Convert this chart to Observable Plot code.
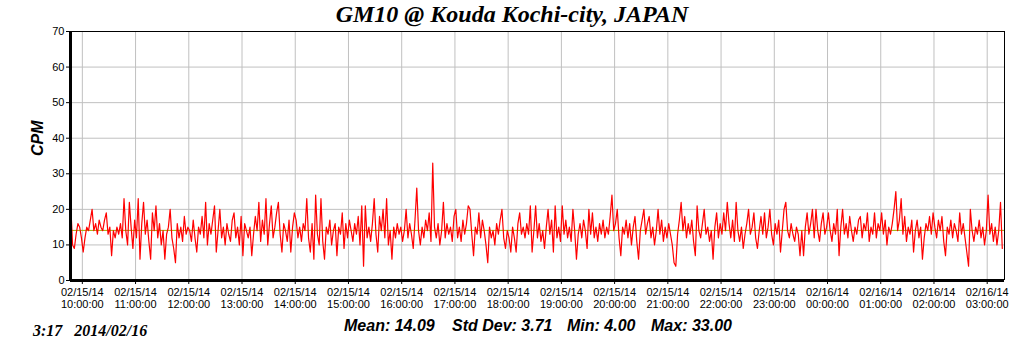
<!DOCTYPE html>
<html><head><meta charset="utf-8">
<script src="https://cdn.jsdelivr.net/npm/d3@7"></script>
<script src="https://cdn.jsdelivr.net/npm/@observablehq/plot@0.6"></script>
<style>
body{margin:0;background:#fff;}
#wrap{position:relative;width:1024px;height:351px;overflow:hidden;}
.ov{position:absolute;white-space:pre;color:#000;}
#title{left:0;width:1024px;top:1px;text-align:center;font:italic bold 24px "Liberation Serif","Times New Roman",serif;}
#stamp{left:33px;top:322px;font:italic bold 16px "Liberation Serif","Times New Roman",serif;}
.st{top:317px;font:italic bold 16px "Liberation Sans",Arial,sans-serif;}
</style></head>
<body>
<div id="wrap"></div>
<script>
// 2-minute CPM readings, starting 02/15/14 09:47
const cpmPre = [21, 10, 9, 13, 16, 15, 12];
const cpm10 = [8, 12, 15, 14, 17, 20, 14, 16, 13, 17, 15, 14, 17, 19, 13, 15, 7, 14, 12, 15, 13, 16, 12, 23, 14, 10, 22, 15, 9, 17];
const cpm11 = [12, 23, 6, 16, 22, 13, 17, 11, 6, 19, 14, 21, 12, 16, 10, 14, 6, 13, 15, 20, 12, 9, 5, 16, 12, 15, 11, 18, 13, 15];
const cpm12 = [14, 11, 17, 12, 8, 15, 13, 18, 12, 22, 10, 16, 13, 17, 21, 8, 14, 20, 12, 15, 10, 16, 13, 11, 17, 19, 12, 15, 10, 18];
const cpm13 = [7, 16, 14, 12, 15, 7, 13, 18, 14, 22, 11, 17, 13, 23, 10, 16, 21, 12, 15, 19, 22, 13, 8, 16, 14, 11, 17, 8, 15, 19];
const cpm14 = [17, 12, 15, 11, 16, 14, 23, 12, 8, 16, 6, 24, 13, 10, 23, 11, 6, 15, 13, 17, 10, 14, 16, 7, 15, 13, 19, 9, 16, 12];
const cpm15 = [17, 14, 11, 16, 13, 18, 10, 21, 4, 21, 12, 15, 11, 16, 23, 13, 8, 18, 14, 20, 12, 23, 10, 14, 6, 15, 12, 16, 13, 15];
const cpm16 = [11, 14, 20, 12, 16, 13, 9, 17, 26, 14, 10, 15, 12, 17, 14, 19, 11, 33, 15, 12, 16, 10, 14, 22, 12, 16, 13, 15, 11, 18];
const cpm17 = [20, 12, 15, 11, 17, 13, 16, 21, 20, 13, 7, 15, 13, 19, 12, 17, 14, 10, 5, 15, 12, 14, 10, 16, 13, 17, 20, 12, 9, 14];
const cpm18 = [12, 8, 15, 12, 8, 16, 19, 13, 15, 12, 16, 13, 21, 8, 14, 21, 12, 16, 11, 14, 9, 15, 20, 13, 17, 8, 21, 12, 15, 11];
const cpm19 = [21, 13, 17, 12, 15, 11, 20, 14, 6, 13, 16, 12, 17, 14, 9, 20, 13, 19, 12, 15, 11, 16, 13, 17, 12, 15, 13, 18, 24, 14];
const cpm20 = [16, 20, 12, 7, 15, 13, 17, 12, 16, 10, 15, 18, 11, 6, 14, 17, 20, 13, 16, 18, 12, 15, 10, 14, 20, 13, 17, 11, 15, 12];
const cpm21 = [16, 13, 10, 5, 4, 13, 17, 22, 14, 18, 12, 16, 13, 17, 11, 7, 21, 14, 12, 16, 20, 13, 15, 11, 14, 6, 15, 19, 12, 16];
const cpm22 = [13, 19, 14, 22, 16, 12, 17, 11, 22, 14, 11, 15, 9, 13, 16, 20, 13, 15, 19, 12, 9, 14, 18, 13, 19, 12, 15, 20, 13, 10];
const cpm23 = [16, 13, 17, 8, 14, 20, 22, 14, 12, 16, 13, 11, 15, 13, 7, 14, 7, 15, 19, 13, 16, 20, 12, 20, 14, 11, 16, 19, 13, 15];
const cpm00 = [19, 14, 11, 16, 13, 20, 7, 15, 20, 13, 16, 12, 18, 14, 11, 15, 13, 17, 18, 12, 16, 14, 19, 11, 15, 13, 19, 12, 16, 14];
const cpm01 = [19, 13, 17, 10, 15, 13, 16, 20, 25, 14, 17, 23, 13, 18, 11, 15, 13, 17, 8, 14, 17, 12, 15, 6, 12, 16, 14, 18, 13, 19];
const cpm02 = [15, 12, 17, 14, 18, 11, 7, 15, 13, 17, 12, 16, 14, 11, 19, 13, 16, 12, 8, 4, 20, 14, 11, 15, 13, 17, 12, 15, 10, 14];
const cpm03 = [24, 13, 16, 11, 15, 10, 14, 22, 9];

const meanCPM = 14.09;
const yTicks = [0, 10, 20, 30, 40, 50, 60, 70];
const hourTicks = d3.range(18).map(i => new Date(2014, 1, 15, 10 + i));
const xStart = new Date(2014, 1, 15, 9, 46, 40);
const xEnd = new Date(2014, 1, 16, 3, 19, 30);
const firstReading = new Date(2014, 1, 15, 9, 47);

const allCPM = [].concat(cpmPre, cpm10, cpm11, cpm12, cpm13, cpm14, cpm15, cpm16, cpm17,
  cpm18, cpm19, cpm20, cpm21, cpm22, cpm23, cpm00, cpm01, cpm02, cpm03);
const data = allCPM.map((v, i) => ({t: new Date(+firstReading + i * 120000), v}));

const plot = Plot.plot({
  width: 1024, height: 351,
  marginLeft: 70, marginRight: 20, marginTop: 31, marginBottom: 71,
  x: {type: "time", domain: [xStart, xEnd]},
  y: {domain: [0, 70]},
  style: {fontFamily: 'Arial, "Liberation Sans", sans-serif', fontSize: "11px", color: "black", background: "white"},
  marks: [
    Plot.gridX(hourTicks, {stroke: "#c0c0c0", strokeOpacity: 1}),
    Plot.gridY(yTicks.slice(1, -1), {stroke: "#c0c0c0", strokeOpacity: 1}),
    Plot.ruleY([meanCPM], {stroke: "#a0a800", strokeWidth: 1}),
    Plot.line(data, {x: "t", y: "v", stroke: "#ff0000", strokeWidth: 1.2}),
    Plot.ruleY([70], {stroke: "black"}),
    Plot.ruleX([xEnd], {stroke: "black"}),
    Plot.ruleX([xStart], {stroke: "black", strokeWidth: 3}),
    Plot.ruleY([0], {stroke: "black", strokeWidth: 3}),
    Plot.axisX({ticks: hourTicks, tickFormat: d3.timeFormat("%m/%d/%y\n%H:%M:%S"), tickSize: 4, tickPadding: 3, label: null, lineHeight: 1.1}),
    Plot.axisY({ticks: yTicks, tickSize: 4, tickPadding: 2, label: null}),
    Plot.text(["CPM"], {text: d => d, frameAnchor: "left", dx: -33, rotate: -90, fontSize: 16, fontWeight: "bold", fontStyle: "italic"})
  ]
});
const wrap = document.getElementById("wrap");
wrap.appendChild(plot);

function addText(id, cls, txt, left) {
  const d = document.createElement("div");
  if (id) d.id = id;
  d.className = "ov " + (cls || "");
  d.textContent = txt;
  if (left != null) d.style.left = left + "px";
  wrap.appendChild(d);
}
addText("title", "", "GM10 @ Kouda Kochi-city, JAPAN");
addText("stamp", "", "3:17   2014/02/16");
addText(null, "st", "Mean: 14.09", 344);
addText(null, "st", "Std Dev: 3.71", 452);
addText(null, "st", "Min: 4.00", 567);
addText(null, "st", "Max: 33.00", 651);
</script>
</body></html>
